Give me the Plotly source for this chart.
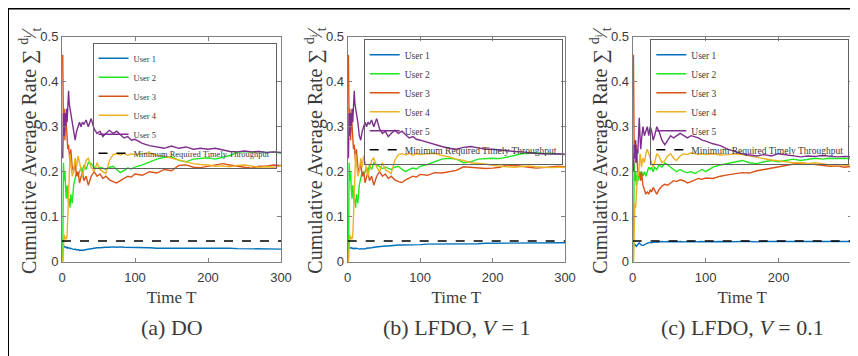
import plotly.graph_objects as go

# ---------------- data ----------------
time_steps = [1, 2, 3, 4, 5, 6, 7, 8, 9, 10, 11, 12,
              14, 16, 18, 20, 22, 24, 26, 28, 30,
              33, 36,
              40, 44, 48, 52, 56, 60,
              65, 70, 75, 80, 85, 90, 95, 100,
              110, 120, 130, 140, 150, 160, 170, 180, 190, 200,
              210, 220, 230, 240, 250, 260, 270, 280, 290, 300]

user_names = ["User 1", "User 2", "User 3", "User 4", "User 5"]
min_label = "Minimum Required Timely Throughput"
min_throughput = 0.046

# (a) DO
do_user1 = [0.040, 0.035, 0.033, 0.032, 0.033, 0.031, 0.032, 0.030, 0.031, 0.030, 0.029, 0.030,
            0.028, 0.027, 0.028, 0.026, 0.027, 0.025, 0.026, 0.025, 0.026,
            0.027, 0.028,
            0.029, 0.030, 0.031, 0.031, 0.032, 0.032,
            0.032, 0.033, 0.032, 0.033, 0.032, 0.032, 0.031, 0.032,
            0.031, 0.031, 0.030, 0.030, 0.031, 0.030, 0.030, 0.030, 0.031, 0.031,
            0.030, 0.030, 0.030, 0.029, 0.029, 0.029, 0.029, 0.028, 0.028, 0.028]
do_user2 = [0.000, 0.220, 0.180, 0.200, 0.160, 0.140, 0.170, 0.150, 0.130, 0.140, 0.120, 0.150,
            0.130, 0.170, 0.190, 0.200, 0.190, 0.200, 0.210, 0.200, 0.215,
            0.205, 0.220,
            0.218, 0.210, 0.207, 0.210, 0.208, 0.205,
            0.210, 0.212, 0.205, 0.198, 0.203, 0.208, 0.206, 0.210,
            0.215, 0.222, 0.228, 0.232, 0.233, 0.225, 0.222, 0.228, 0.230, 0.231,
            0.228, 0.232, 0.236, 0.243, 0.245, 0.243, 0.245, 0.242, 0.244, 0.241]
do_user3 = [0.460, 0.300, 0.340, 0.270, 0.330, 0.300, 0.270, 0.250, 0.260, 0.240, 0.220, 0.250,
            0.210, 0.200, 0.220, 0.190, 0.200, 0.175, 0.190, 0.200, 0.180,
            0.190, 0.170,
            0.190, 0.200, 0.190, 0.195, 0.185, 0.190,
            0.182, 0.178, 0.175, 0.180, 0.186, 0.190, 0.188, 0.195,
            0.192, 0.200, 0.197, 0.205, 0.202, 0.214, 0.215, 0.210, 0.209, 0.212,
            0.215, 0.218, 0.215, 0.212, 0.210, 0.208, 0.212, 0.212, 0.215, 0.214]
do_user4 = [0.000, 0.050, 0.060, 0.050, 0.055, 0.050, 0.060, 0.100, 0.170, 0.200, 0.240, 0.220,
            0.190, 0.200, 0.230, 0.210, 0.235, 0.220, 0.200, 0.190, 0.205,
            0.225, 0.230,
            0.210, 0.200, 0.220, 0.205, 0.200, 0.196,
            0.225, 0.238, 0.240, 0.237, 0.241, 0.236, 0.240, 0.238,
            0.240, 0.242, 0.236, 0.235, 0.230, 0.226, 0.222, 0.218, 0.216, 0.215,
            0.212, 0.213, 0.211, 0.214, 0.215, 0.212, 0.210, 0.211, 0.210, 0.213]
do_user5 = [0.230, 0.330, 0.280, 0.330, 0.300, 0.340, 0.310, 0.360, 0.380, 0.350, 0.340, 0.330,
            0.310, 0.280, 0.270, 0.290, 0.300, 0.310, 0.300, 0.310, 0.305,
            0.315, 0.300,
            0.318, 0.295, 0.285, 0.290, 0.278, 0.285,
            0.292, 0.285, 0.290, 0.282, 0.275, 0.278, 0.270, 0.272,
            0.263, 0.258, 0.255, 0.252, 0.257, 0.252, 0.255, 0.250, 0.252, 0.250,
            0.252, 0.248, 0.245, 0.244, 0.246, 0.244, 0.245, 0.243, 0.244, 0.243]

# (b) LFDO, V = 1
v1_user1 = [0.040, 0.034, 0.031, 0.030, 0.031, 0.030, 0.029, 0.030, 0.029, 0.030, 0.029, 0.030,
            0.029, 0.028, 0.029, 0.028, 0.029, 0.028, 0.030, 0.030, 0.031,
            0.031, 0.032,
            0.033, 0.034, 0.034, 0.035, 0.035, 0.036,
            0.036, 0.037, 0.037, 0.037, 0.038, 0.038, 0.038, 0.038,
            0.039, 0.039, 0.039, 0.040, 0.040, 0.040, 0.040, 0.040, 0.041, 0.041,
            0.041, 0.041, 0.041, 0.041, 0.042, 0.042, 0.042, 0.042, 0.042, 0.042]
v1_user2 = [0.000, 0.220, 0.180, 0.200, 0.160, 0.140, 0.170, 0.150, 0.130, 0.140, 0.120, 0.150,
            0.130, 0.170, 0.190, 0.200, 0.190, 0.200, 0.210, 0.200, 0.215,
            0.205, 0.220,
            0.215, 0.210, 0.207, 0.210, 0.208, 0.205,
            0.210, 0.212, 0.205, 0.200, 0.205, 0.208, 0.206, 0.212,
            0.216, 0.222, 0.228, 0.230, 0.228, 0.220, 0.222, 0.228, 0.229, 0.230,
            0.229, 0.232, 0.236, 0.240, 0.241, 0.242, 0.240, 0.241, 0.239, 0.238]
v1_user3 = [0.460, 0.300, 0.340, 0.270, 0.330, 0.300, 0.270, 0.250, 0.260, 0.240, 0.220, 0.250,
            0.210, 0.200, 0.220, 0.190, 0.200, 0.175, 0.190, 0.200, 0.180,
            0.190, 0.170,
            0.190, 0.200, 0.190, 0.195, 0.185, 0.190,
            0.182, 0.178, 0.176, 0.182, 0.186, 0.190, 0.188, 0.194,
            0.192, 0.198, 0.197, 0.200, 0.203, 0.211, 0.210, 0.208, 0.207, 0.208,
            0.210, 0.215, 0.214, 0.212, 0.210, 0.208, 0.209, 0.211, 0.212, 0.211]
v1_user4 = [0.000, 0.050, 0.060, 0.050, 0.055, 0.050, 0.060, 0.100, 0.170, 0.200, 0.240, 0.220,
            0.190, 0.200, 0.230, 0.210, 0.235, 0.220, 0.200, 0.190, 0.205,
            0.225, 0.230,
            0.210, 0.200, 0.220, 0.205, 0.200, 0.196,
            0.225, 0.238, 0.240, 0.237, 0.241, 0.236, 0.240, 0.238,
            0.240, 0.241, 0.236, 0.233, 0.228, 0.225, 0.220, 0.219, 0.217, 0.214,
            0.212, 0.211, 0.210, 0.212, 0.213, 0.211, 0.210, 0.209, 0.210, 0.210]
v1_user5 = [0.230, 0.330, 0.280, 0.330, 0.300, 0.340, 0.310, 0.360, 0.380, 0.350, 0.340, 0.330,
            0.310, 0.280, 0.270, 0.290, 0.300, 0.310, 0.300, 0.310, 0.305,
            0.315, 0.300,
            0.318, 0.295, 0.285, 0.290, 0.278, 0.285,
            0.292, 0.285, 0.290, 0.282, 0.275, 0.278, 0.272, 0.270,
            0.265, 0.260, 0.256, 0.252, 0.250, 0.254, 0.256, 0.253, 0.250, 0.250,
            0.248, 0.246, 0.245, 0.244, 0.242, 0.241, 0.240, 0.239, 0.240, 0.239]

# (c) LFDO, V = 0.1
v01_user1 = [0.040, 0.035, 0.038, 0.036, 0.034, 0.036, 0.038, 0.040, 0.042, 0.040, 0.038, 0.037,
             0.036, 0.038, 0.039, 0.041, 0.042, 0.043, 0.042, 0.043, 0.044,
             0.043, 0.044,
             0.045, 0.044, 0.045, 0.044, 0.045, 0.044,
             0.045, 0.044, 0.045, 0.045, 0.044, 0.045, 0.045, 0.044,
             0.045, 0.045, 0.044, 0.045, 0.045, 0.045, 0.044, 0.045, 0.045, 0.045,
             0.045, 0.045, 0.045, 0.045, 0.045, 0.045, 0.045, 0.045, 0.045, 0.045]
v01_user2 = [0.000, 0.220, 0.180, 0.200, 0.170, 0.190, 0.200, 0.180, 0.190, 0.200, 0.190, 0.200,
             0.190, 0.200, 0.190, 0.200, 0.210, 0.205, 0.210, 0.200, 0.210,
             0.205, 0.215,
             0.210, 0.220, 0.215, 0.210, 0.205, 0.200,
             0.205, 0.200, 0.198, 0.200, 0.196, 0.200, 0.205, 0.200,
             0.210, 0.215, 0.218, 0.222, 0.225, 0.220, 0.218, 0.222, 0.225, 0.222,
             0.225, 0.228, 0.225, 0.228, 0.230, 0.228, 0.230, 0.229, 0.230, 0.228]
v01_user3 = [0.460, 0.250, 0.270, 0.220, 0.260, 0.210, 0.200, 0.190, 0.200, 0.190, 0.180, 0.200,
             0.170, 0.160, 0.150, 0.155, 0.150, 0.160, 0.155, 0.165, 0.158,
             0.150, 0.160,
             0.168, 0.172, 0.170, 0.175, 0.180, 0.178,
             0.182, 0.180, 0.175, 0.178, 0.182, 0.185, 0.183, 0.186,
             0.185, 0.190, 0.193, 0.195, 0.198, 0.197, 0.202, 0.205, 0.208, 0.212,
             0.215, 0.218, 0.220, 0.218, 0.216, 0.215, 0.212, 0.213, 0.210, 0.212]
v01_user4 = [0.000, 0.110, 0.130, 0.120, 0.150, 0.170, 0.200, 0.190, 0.220, 0.240, 0.230, 0.210,
             0.230, 0.220, 0.240, 0.250, 0.240, 0.230, 0.220, 0.210, 0.220,
             0.240, 0.235,
             0.220, 0.225, 0.235, 0.240, 0.230, 0.225,
             0.235, 0.240, 0.238, 0.242, 0.240, 0.238, 0.240, 0.238,
             0.240, 0.237, 0.238, 0.240, 0.238, 0.235, 0.232, 0.228, 0.226, 0.224,
             0.222, 0.220, 0.220, 0.218, 0.220, 0.218, 0.215, 0.216, 0.214, 0.215]
v01_user5 = [0.200, 0.260, 0.230, 0.270, 0.220, 0.250, 0.240, 0.300, 0.320, 0.280, 0.250, 0.270,
             0.300, 0.280, 0.290, 0.300, 0.280, 0.300, 0.290, 0.270, 0.280,
             0.300, 0.290,
             0.270, 0.260, 0.270, 0.280, 0.275, 0.280,
             0.285, 0.280, 0.275, 0.280, 0.278, 0.275, 0.270, 0.268,
             0.262, 0.258, 0.250, 0.245, 0.240, 0.237, 0.235, 0.238, 0.235, 0.240,
             0.238, 0.236, 0.233, 0.235, 0.234, 0.236, 0.234, 0.233, 0.234, 0.233]

x_ticks = [0, 100, 200, 300]
x_tick_labels = ["0", "100", "200", "300"]
y_ticks = [0, 0.1, 0.2, 0.3, 0.4, 0.5]
y_tick_labels = ["0", "0.1", "0.2", "0.3", "0.4", "0.5"]
captions = ["(a) DO", "(b) LFDO, <i>V</i> = 1", "(c) LFDO, <i>V</i> = 0.1"]

# ---------------- style ----------------
# the page body adds an 8px margin, so the figure is 8px smaller than the
# window and every pixel position below is measured from (8, 8)
OFF = 8
W, H = 858 - OFF, 356 - OFF
colors = ["#0072BD", "#1fe81f", "#D95319", "#EDB120", "#7E2F8E"]
serif = "Liberation Serif, Times New Roman, serif"
sans = "Liberation Sans, Arial, sans-serif"
axis_col = "#808080"
text_col = "#3a3a3a"

panels = [
    [do_user1, do_user2, do_user3, do_user4, do_user5],
    [v1_user1, v1_user2, v1_user3, v1_user4, v1_user5],
    [v01_user1, v01_user2, v01_user3, v01_user4, v01_user5],
]
# window-pixel boxes of the plot areas: (left, right)
x_px = [(62, 281), (347.7, 565), (632.7, 851.7)]
y_top_px, y_bot_px = 36.7, 261.7
legend_box = [  # right edge px, top px, font size
    (276.5, 42.7, 8.5),
    (562.7, 39.3, 9.5),
    (849.3, 39.3, 9.5),
]


def px(xw):
    return (xw - OFF) / W


def py(yw):
    return (H - (yw - OFF)) / H


fig = go.Figure()
layout = dict(
    width=W, height=H, margin=dict(l=0, r=0, t=0, b=0, autoexpand=False),
    paper_bgcolor="white", plot_bgcolor="white",
    font=dict(family=serif, color=text_col),
    shapes=[], annotations=[],
)

for i, series in enumerate(panels):
    suf = "" if i == 0 else str(i + 1)
    leg = "legend" if i == 0 else f"legend{i + 1}"
    for k, vals in enumerate(series):
        fig.add_trace(go.Scatter(
            x=time_steps, y=vals, mode="lines", name=user_names[k],
            line=dict(color=colors[k], width=1.4),
            xaxis="x" + suf, yaxis="y" + suf, legend=leg,
        ))
    fig.add_trace(go.Scatter(
        x=[0, x_ticks[-1]], y=[min_throughput, min_throughput], mode="lines",
        name=min_label, line=dict(color="black", width=1.4, dash="dash"),
        xaxis="x" + suf, yaxis="y" + suf, legend=leg,
    ))

    l, r = x_px[i]
    common = dict(showline=True, mirror="ticks", linecolor=axis_col, linewidth=1,
                  ticks="inside", ticklen=4, tickcolor=axis_col, showgrid=False,
                  zeroline=False, automargin=False,
                  tickfont=dict(family=sans, size=13, color=text_col))
    layout["xaxis" + suf] = dict(
        domain=[px(l), px(r)], range=[0, 300],
        tickmode="array", tickvals=x_ticks, ticktext=x_tick_labels,
        ticklabelstandoff=4,
        anchor="y" + suf, **common,
        title=dict(text="Time T", font=dict(family=serif, size=17, color=text_col), standoff=6),
    )
    layout["yaxis" + suf] = dict(
        domain=[py(y_bot_px), py(y_top_px)], range=[0, 0.5],
        tickmode="array", tickvals=y_ticks, ticktext=y_tick_labels,
        anchor="x" + suf, **common,
    )
    # y-axis title
    layout["annotations"].append(dict(
        text="Cumulative Average Rate ∑ <sup>d<sub>i</sub></sup>⁄<sub>t</sub>",
        xref="paper", yref="paper", x=px(l - 32), y=py(151),
        textangle=-90, showarrow=False, xanchor="center", yanchor="middle",
        font=dict(family=serif, size=20, color=text_col),
    ))
    # caption
    layout["annotations"].append(dict(
        text=captions[i], xref="paper", yref="paper",
        x=px((l + r) / 2), y=py(327), showarrow=False,
        xanchor="center", yanchor="middle",
        font=dict(family=serif, size=22, color=text_col),
    ))
    rx, ty, fs = legend_box[i]
    # Plotly legend rows are taller than the reference's, so the box is left
    # see-through to keep the curves underneath visible
    layout[leg] = dict(
        x=px(rx), y=py(ty), xanchor="right", yanchor="top",
        bgcolor="rgba(255,255,255,0)", bordercolor="#606060", borderwidth=1,
        font=dict(family=serif, size=fs, color=text_col),
        itemwidth=30, tracegroupgap=0,
    )

# outer frame (top and left edges)
layout["shapes"].append(dict(
    type="rect", xref="paper", yref="paper",
    x0=px(8), x1=1.05, y0=-0.05, y1=py(8.5),
    line=dict(color="black", width=2), fillcolor="rgba(0,0,0,0)",
))

fig.update_layout(**layout)
fig.write_html("out.html")
